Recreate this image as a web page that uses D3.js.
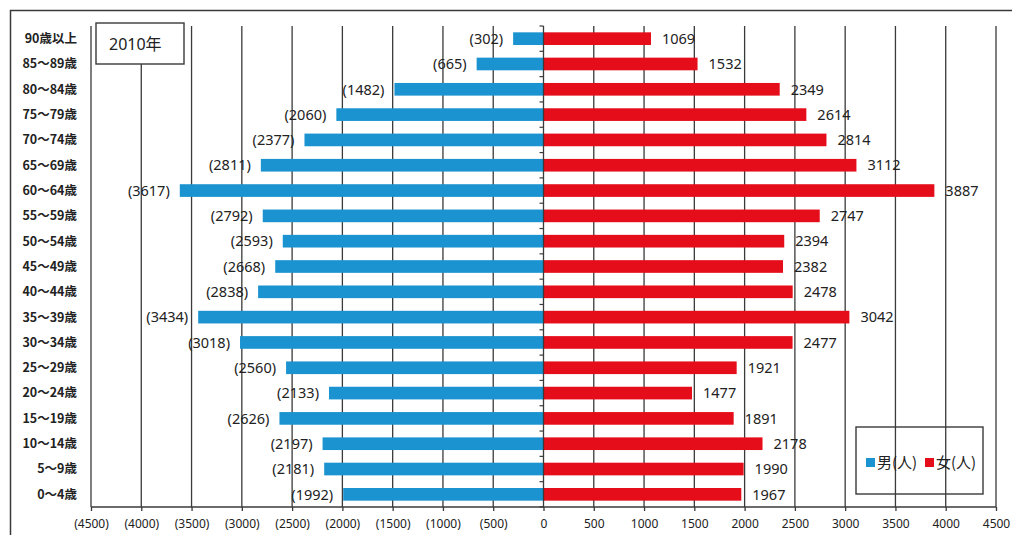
<!DOCTYPE html>
<html>
<head>
<meta charset="utf-8">
<script src="https://cdn.jsdelivr.net/npm/d3@7/dist/d3.min.js"></script>
<style>
  html, body { margin: 0; padding: 0; background: #fff; }
  svg { display: block; }
</style>
</head>
<body>
<svg id="chart" width="1012" height="535"></svg>
<script>
// Age groups, top to bottom
const ageGroups = [
  "90歳以上", "85～89歳", "80～84歳", "75～79歳", "70～74歳", "65～69歳",
  "60～64歳", "55～59歳", "50～54歳", "45～49歳", "40～44歳", "35～39歳",
  "30～34歳", "25～29歳", "20～24歳", "15～19歳", "10～14歳", "5～9歳", "0～4歳"
];
// Population by sex (persons)
const male = [302, 665, 1482, 2060, 2377, 2811, 3617, 2792, 2593, 2668, 2838, 3434,
              3018, 2560, 2133, 2626, 2197, 2181, 1992];
const female = [1069, 1532, 2349, 2614, 2814, 3112, 3887, 2747, 2394, 2382, 2478, 3042,
                2477, 1921, 1477, 1891, 2178, 1990, 1967];
// Axis ticks
const tickValues = [-4500, -4000, -3500, -3000, -2500, -2000, -1500, -1000, -500,
                    0, 500, 1000, 1500, 2000, 2500, 3000, 3500, 4000, 4500];
const titleText = "2010年";
const legendLabels = ["男(人)", "女(人)"];

const MALE_COLOR = "#1a93d0";
const FEMALE_COLOR = "#e50d1a";
const LINE_COLOR = "#3a3a3a";
const TEXT_COLOR = "#222";
const FONT = "'Noto Sans', 'Noto Sans CJK JP', sans-serif";
const CJK_FONT = "'Noto Sans CJK JP', 'Noto Sans', sans-serif";

const svg = d3.select("#chart");
const plot = { left: 91, right: 996, top: 26, bottom: 507 };

const x = d3.scaleLinear().domain([-4500, 4500]).range([plot.left, plot.right]);
const y = d3.scaleBand().domain(ageGroups).range([plot.top, plot.bottom]).paddingInner(0.5).paddingOuter(0.25);

// Outer frame
svg.append("rect")
  .attr("x", 10.5).attr("y", 10.5).attr("width", 1010).attr("height", 540)
  .attr("fill", "none").attr("stroke", LINE_COLOR).attr("stroke-width", 1.5);

// Vertical gridlines
svg.append("g").selectAll("line")
  .data(tickValues.filter(d => d !== 0))
  .join("line")
  .attr("x1", d => x(d)).attr("x2", d => x(d))
  .attr("y1", plot.top).attr("y2", plot.bottom)
  .attr("stroke", LINE_COLOR).attr("stroke-width", 1.3);

// Bottom axis
const xAxis = d3.axisBottom(x)
  .tickValues(tickValues)
  .tickSize(4)
  .tickFormat(d => d < 0 ? `(${-d})` : `${d}`);
const gx = svg.append("g").attr("transform", `translate(0,${plot.bottom})`).call(xAxis);
gx.select(".domain").attr("stroke", LINE_COLOR).attr("stroke-width", 1.3).attr("d", `M${plot.left},0H${plot.right}`);
gx.selectAll(".tick line").attr("stroke", LINE_COLOR).attr("stroke-width", 1.3);
gx.selectAll(".tick text")
  .attr("y", 12)
  .attr("fill", TEXT_COLOR)
  .style("font-family", FONT)
  .style("font-size", "12px");

// Bars
const rows = ageGroups.map((g, i) => ({ group: g, m: male[i], f: female[i] }));

svg.append("g").selectAll("rect")
  .data(rows)
  .join("rect")
  .attr("x", d => x(-d.m))
  .attr("y", d => y(d.group))
  .attr("width", d => x(0) - x(-d.m))
  .attr("height", y.bandwidth())
  .attr("fill", MALE_COLOR);

svg.append("g").selectAll("rect")
  .data(rows)
  .join("rect")
  .attr("x", x(0))
  .attr("y", d => y(d.group))
  .attr("width", d => x(d.f) - x(0))
  .attr("height", y.bandwidth())
  .attr("fill", FEMALE_COLOR);

// Centre axis with category ticks
const yAxis = d3.axisLeft(y).tickSize(0).tickFormat(() => "");
const gy = svg.append("g").attr("transform", `translate(${x(0)},0)`).call(yAxis);
gy.select(".domain").attr("stroke", LINE_COLOR).attr("stroke-width", 1.3)
  .attr("d", `M0,${plot.top}V${plot.bottom}`);
const boundaries = d3.range(ageGroups.length + 1).map(i => plot.top + i * (plot.bottom - plot.top) / ageGroups.length);
gy.append("g").selectAll("line")
  .data(boundaries)
  .join("line")
  .attr("x1", -4).attr("x2", 0)
  .attr("y1", d => d).attr("y2", d => d)
  .attr("stroke", LINE_COLOR).attr("stroke-width", 1.2);

// Category labels
svg.append("g").selectAll("text")
  .data(ageGroups)
  .join("text")
  .attr("x", 77)
  .attr("y", d => y(d) + y.bandwidth() / 2)
  .attr("dy", "0.35em")
  .attr("text-anchor", "end")
  .attr("fill", TEXT_COLOR)
  .style("font-family", CJK_FONT)
  .style("font-size", "12.5px")
  .style("font-weight", "bold")
  .text(d => d);

// Value labels
svg.append("g").selectAll("text")
  .data(rows)
  .join("text")
  .attr("x", d => x(-d.m) - 10)
  .attr("y", d => y(d.group) + y.bandwidth() / 2)
  .attr("dy", "0.36em")
  .attr("text-anchor", "end")
  .attr("fill", TEXT_COLOR)
  .style("font-family", FONT)
  .style("font-size", "14.5px")
  .text(d => `(${d.m})`);

svg.append("g").selectAll("text")
  .data(rows)
  .join("text")
  .attr("x", d => x(d.f) + 11)
  .attr("y", d => y(d.group) + y.bandwidth() / 2)
  .attr("dy", "0.36em")
  .attr("text-anchor", "start")
  .attr("fill", TEXT_COLOR)
  .style("font-family", FONT)
  .style("font-size", "14.5px")
  .text(d => d.f);

// Year box
const tb = svg.append("g").attr("transform", "translate(96,23)");
tb.append("rect").attr("width", 88).attr("height", 41)
  .attr("fill", "#fff").attr("stroke", LINE_COLOR).attr("stroke-width", 1.4);
tb.append("text").attr("x", 13).attr("y", 21).attr("dy", "0.35em")
  .attr("fill", TEXT_COLOR)
  .style("font-family", FONT).style("font-size", "16px")
  .text(titleText);

// Legend
const lg = svg.append("g").attr("transform", "translate(856,427)");
lg.append("rect").attr("width", 127).attr("height", 67)
  .attr("fill", "none").attr("stroke", LINE_COLOR).attr("stroke-width", 1.4);
const legendItems = [
  { label: legendLabels[0], color: MALE_COLOR, x: 10 },
  { label: legendLabels[1], color: FEMALE_COLOR, x: 69 }
];
const li = lg.selectAll("g.item").data(legendItems).join("g")
  .attr("class", "item")
  .attr("transform", d => `translate(${d.x},36)`);
li.append("rect").attr("x", 0).attr("y", -5).attr("width", 9).attr("height", 9)
  .attr("fill", d => d.color);
li.append("text").attr("x", 11).attr("y", 0).attr("dy", "0.35em")
  .attr("fill", TEXT_COLOR)
  .style("font-family", CJK_FONT).style("font-size", "15px")
  .text(d => d.label);
</script>
</body>
</html>
